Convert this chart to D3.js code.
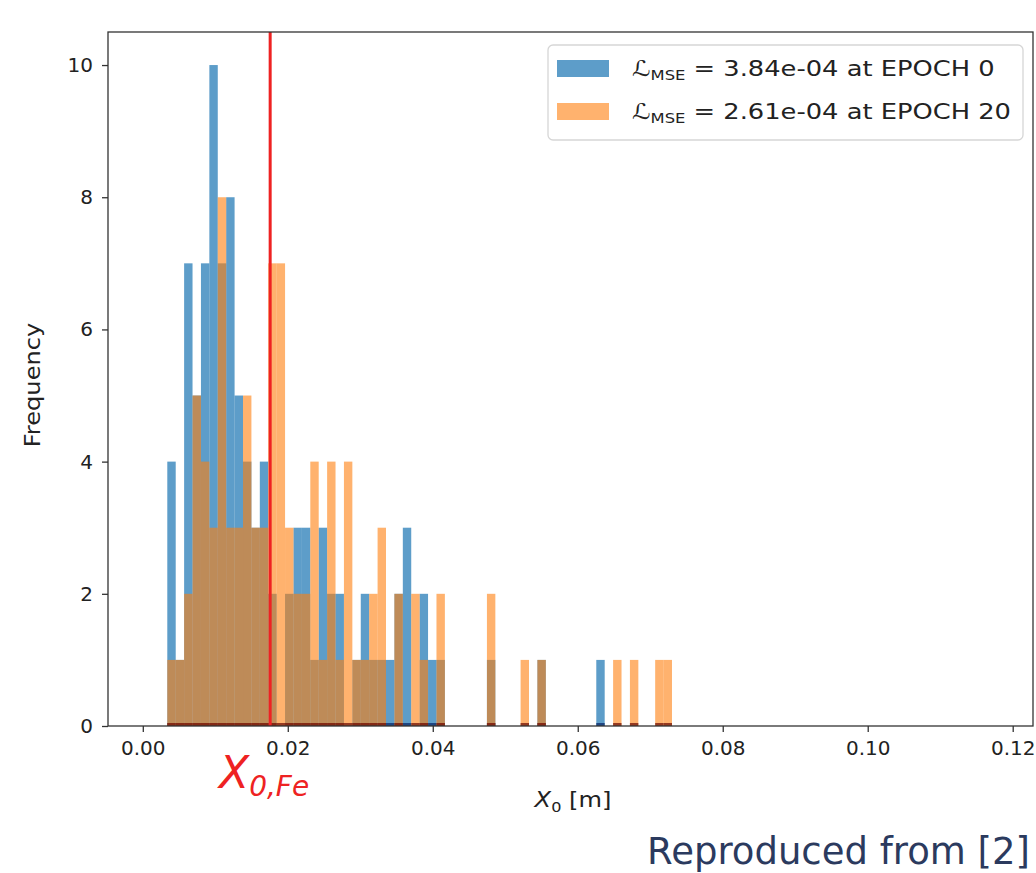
<!DOCTYPE html>
<html lang="en">
<head>
  <meta charset="UTF-8">
  <title>X0 histogram</title>
  <script src="https://cdn.jsdelivr.net/npm/d3@7"></script>
  <style>
    body { margin: 0; background: #fff; }
    text { font-family: "DejaVu Sans", sans-serif; }
  </style>
</head>
<body>
  <svg id="chart"></svg>
<script>
  // histogram bins (shared by both epochs)
  const binLo = 0.00338, binHi = 0.0730, binCount = 60;

  // counts per bin
  const countsEpoch0 = [4, 1, 7, 5, 7, 10, 7, 8, 5, 4, 3, 4, 2, 0, 2, 3, 3, 1, 3, 2,
                        2, 0, 1, 2, 1, 1, 1, 2, 3, 0, 2, 1, 1, 0, 0, 0, 0, 0, 1, 0,
                        0, 0, 0, 0, 1, 0, 0, 0, 0, 0, 0, 1, 0, 0, 0, 0, 0, 0, 0, 0];
  const countsEpoch20 = [1, 1, 2, 5, 4, 3, 8, 3, 3, 5, 3, 3, 7, 7, 3, 2, 2, 4, 1, 4,
                         1, 4, 1, 1, 2, 3, 0, 2, 0, 2, 1, 0, 2, 0, 0, 0, 0, 0, 2, 0,
                         0, 0, 1, 0, 1, 0, 0, 0, 0, 0, 0, 0, 0, 1, 0, 1, 0, 0, 1, 1];

  const xTicks = [0, 0.02, 0.04, 0.06, 0.08, 0.10, 0.12];
  const yTicks = [0, 2, 4, 6, 8, 10];
  const x0Fe = 0.01757;
  const legendItems = [
    { loss: '3.84e-04', epoch: 0 },
    { loss: '2.61e-04', epoch: 20 },
  ];

  const width = 1036, height = 873;
  const margin = { top: 32, right: 3, bottom: 147, left: 108 };

  const svg = d3.select('#chart')
    .attr('width', width)
    .attr('height', height);

  const x = d3.scaleLinear()
    .domain([-0.0048, 0.1228])
    .range([margin.left, width - margin.right]);
  const y = d3.scaleLinear()
    .domain([0, 10.5])
    .range([height - margin.bottom, margin.top]);

  const edges = d3.range(binCount + 1).map(i => binLo + i * (binHi - binLo) / binCount);

  const series = [
    { counts: countsEpoch0, fill: '#1f77b4', opacity: 0.72, base: '#10306e' },
    { counts: countsEpoch20, fill: '#ff7f0e', opacity: 0.6, base: '#7a1a0c' },
  ];

  series.forEach(s => {
    const bins = s.counts.map((c, i) => ({ c, x0: edges[i], x1: edges[i + 1] }))
      .filter(d => d.c > 0);

    svg.append('g')
      .selectAll('rect')
      .data(bins)
      .join('rect')
      .attr('x', d => x(d.x0))
      .attr('width', d => x(d.x1) - x(d.x0))
      .attr('y', d => y(d.c))
      .attr('height', d => y(0) - y(d.c))
      .attr('fill', s.fill)
      .attr('fill-opacity', s.opacity);

    // dark edge along the baseline
    svg.append('g')
      .selectAll('rect')
      .data(bins)
      .join('rect')
      .attr('x', d => x(d.x0))
      .attr('width', d => x(d.x1) - x(d.x0))
      .attr('y', y(0) - 3)
      .attr('height', 3)
      .attr('fill', s.base)
      .attr('fill-opacity', 0.8);
  });

  // iron radiation length marker
  svg.append('line')
    .attr('x1', x(x0Fe)).attr('x2', x(x0Fe))
    .attr('y1', y(10.5)).attr('y2', y(0))
    .attr('stroke', '#ee2222')
    .attr('stroke-width', 3);

  // axes
  const xAxis = svg.append('g')
    .attr('transform', `translate(0,${y(0)})`)
    .call(d3.axisBottom(x).tickValues(xTicks).tickFormat(d3.format('.2f')).tickSize(6).tickPadding(9));
  const yAxis = svg.append('g')
    .attr('transform', `translate(${margin.left},0)`)
    .call(d3.axisLeft(y).tickValues(yTicks).tickSize(6).tickPadding(9));

  [xAxis, yAxis].forEach(a => {
    a.select('.domain').remove();
    a.selectAll('.tick line').attr('stroke', '#333').attr('stroke-width', 1.3);
    a.selectAll('.tick text')
      .attr('font-size', 20)
      .attr('font-family', '"DejaVu Sans", sans-serif')
      .attr('fill', '#222');
  });

  // frame
  svg.append('rect')
    .attr('x', x.range()[0]).attr('y', y.range()[1])
    .attr('width', x.range()[1] - x.range()[0])
    .attr('height', y.range()[0] - y.range()[1])
    .attr('fill', 'none')
    .attr('stroke', '#333')
    .attr('stroke-width', 1.3);

  // axis titles
  const xt = svg.append('text')
    .attr('transform', 'translate(573,807) scale(1.15,1)')
    .attr('text-anchor', 'middle')
    .attr('font-size', 21)
    .attr('fill', '#222');
  xt.append('tspan').attr('font-style', 'italic').text('X');
  xt.append('tspan').attr('font-size', 14).attr('dy', 5).text('0');
  xt.append('tspan').attr('dy', -5).text(' [m]');

  svg.append('text')
    .attr('transform', `translate(40,385) rotate(-90) scale(1.15,1)`)
    .attr('text-anchor', 'middle')
    .attr('font-size', 21)
    .attr('fill', '#222')
    .text('Frequency');

  // red label for the marker
  const fe = svg.append('text')
    .attr('x', 219).attr('y', 788)
    .attr('fill', '#ee2222')
    .attr('font-style', 'italic')
    .attr('font-size', 44);
  fe.append('tspan').text('X');
  fe.append('tspan').attr('font-size', 28).attr('dy', 8).text('0,Fe');

  // legend
  const lg = svg.append('g').attr('transform', 'translate(548,45)');
  lg.append('rect')
    .attr('width', 475).attr('height', 95)
    .attr('rx', 5)
    .attr('fill', '#fff').attr('fill-opacity', 0.85)
    .attr('stroke', '#d6d6d6').attr('stroke-width', 1.3);

  legendItems.forEach((d, i) => {
    const row = lg.append('g').attr('transform', `translate(0,${23 + i * 43})`);
    row.append('rect')
      .attr('x', 9).attr('y', -8)
      .attr('width', 52).attr('height', 17)
      .attr('fill', series[i].fill)
      .attr('fill-opacity', series[i].opacity);
    const t = row.append('text')
      .attr('transform', 'translate(84,8) scale(1.17,1)')
      .attr('font-size', 22)
      .attr('fill', '#222');
    t.append('tspan').attr('font-style', 'italic').text('ℒ');
    t.append('tspan').attr('font-size', 14).attr('dy', 4).text('MSE');
    t.append('tspan').attr('dy', -4).text(` = ${d.loss} at EPOCH ${d.epoch}`);
  });

  // source note
  svg.append('text')
    .attr('x', 1030).attr('y', 864)
    .attr('text-anchor', 'end')
    .attr('font-family', 'Roboto, sans-serif')
    .attr('font-size', 37)
    .attr('fill', '#2b3a5e')
    .text('Reproduced from [2]');
</script>
</body>
</html>
